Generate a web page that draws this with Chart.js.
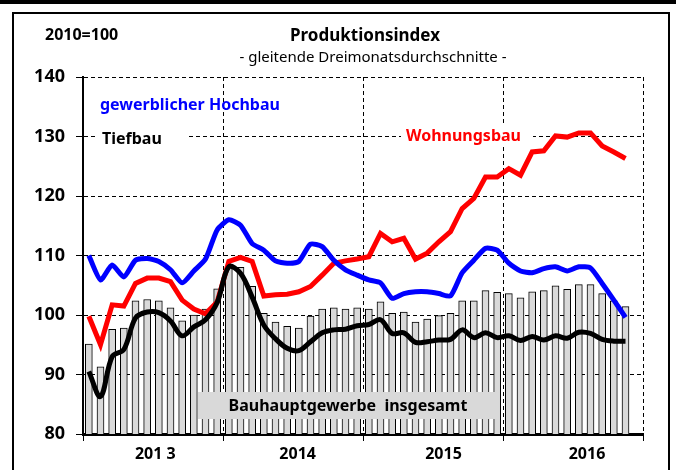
<!DOCTYPE html>
<html>
<head>
<meta charset="utf-8">
<script src="https://cdn.jsdelivr.net/npm/chart.js@4"></script>
<style>
  body { margin: 0; background: #fff; }
  #wrap { position: relative; width: 676px; height: 470px; }
  #topbar { position: absolute; left: 0; top: 0; width: 676px; height: 4px; background: #000; }
  #frame { position: absolute; left: 12px; top: 12px; width: 654px; height: 470px; border: 2px solid #000; border-bottom: none; }
  canvas { position: absolute; left: 0; top: 0; }
</style>
</head>
<body>
<div id="wrap">
  <div id="topbar"></div>
  <div id="frame"></div>
  <canvas id="myChart" width="676" height="470"></canvas>
</div>
<script>
// monthly values Jan 2013 - Nov 2016, 2010=100
var yearLabels = ['201 3', '2014', '2015', '2016'];
var yearLabelPos = [6.2, 18.4, 30.9, 43.2];

var bauhauptgewerbe = [95.1, 91.3, 97.6, 97.8, 102.4, 102.6, 102.4, 101.2, 99.0, 100.0, 101.0, 104.4,
  108.0, 108.0, 104.8, 100.3, 98.8, 98.1, 97.8, 99.8, 101.0, 101.2, 101.0, 101.2,
  101.0, 102.2, 100.3, 100.5, 98.8, 99.3, 99.9, 100.3, 102.4, 102.4, 104.1, 103.8,
  103.6, 102.9, 103.9, 104.1, 104.9, 104.3, 105.1, 105.1, 103.6, 102.4, 101.4];

var tiefbau = [90.5, 86.3, 93.0, 94.2, 99.5, 100.5, 100.4, 99.0, 96.5, 98.0, 99.2, 102.1,
  108.1, 107.0, 103.0, 98.3, 96.0, 94.4, 94.0, 95.5, 97.0, 97.5, 97.6, 98.2,
  98.4, 99.2, 96.9, 97.0, 95.4, 95.5, 95.8, 95.9, 97.5, 96.2, 97.0, 96.2,
  96.5, 95.7, 96.4, 95.8, 96.5, 96.1, 97.1, 96.9, 95.9, 95.6, 95.6];

var hochbau = [110.0, 105.9, 108.4, 106.4, 109.2, 109.5, 109.0, 107.6, 105.4, 107.4, 109.4, 114.3,
  116.0, 115.1, 112.0, 110.9, 109.1, 108.7, 109.0, 111.9, 111.5, 109.2, 107.6, 106.7,
  105.9, 105.4, 102.8, 103.6, 103.9, 103.9, 103.6, 103.2, 107.1, 109.2, 111.2, 110.9,
  108.7, 107.4, 107.1, 107.8, 108.1, 107.4, 108.1, 107.9, 105.3, 102.5, 99.6];

var wohnungsbau = [99.8, 95.0, 101.7, 101.5, 105.3, 106.2, 106.2, 105.6, 102.5, 101.0, 100.2, 102.2,
  109.0, 109.7, 109.0, 103.2, 103.4, 103.5, 103.9, 104.8, 106.7, 108.7, 109.1, 109.4,
  109.8, 113.7, 112.3, 112.9, 109.4, 110.4, 112.3, 114.0, 117.9, 119.6, 123.2, 123.2,
  124.6, 123.5, 127.4, 127.6, 130.1, 129.9, 130.6, 130.6, 128.4, 127.4, 126.3];

function toPoints(arr) {
  return arr.map(function (v, i) { return { x: i + 0.5, y: v }; });
}

var FONT = '"Noto Sans", "DejaVu Sans", sans-serif';

// titles and in-chart labels
var textPlugin = {
  id: 'texts',
  afterDatasetsDraw: function (chart) {
    var c = chart.ctx;
    c.save();
    c.textBaseline = 'middle';

    c.fillStyle = '#000';
    c.textAlign = 'left';
    c.font = 'bold 16px ' + FONT;
    c.fillText('2010=100', 45, 35);

    c.textAlign = 'center';
    c.font = 'bold 17px ' + FONT;
    c.fillText('Produktionsindex', 365, 36);
    c.font = '15px ' + FONT;
    c.fillText('- gleitende Dreimonatsdurchschnitte -', 373, 58);

    c.textAlign = 'left';
    c.font = 'bold 16px ' + FONT;
    c.fillStyle = '#0000ff';
    c.fillText('gewerblicher Hochbau', 100, 105);

    c.fillStyle = '#fff';
    c.fillRect(95, 128, 94, 20);
    c.fillStyle = '#000';
    c.fillText('Tiefbau', 102, 139);

    c.fillStyle = '#fff';
    c.fillRect(401, 126, 132, 20);
    c.fillStyle = '#ff0000';
    c.fillText('Wohnungsbau', 406, 136);

    c.fillStyle = '#d9d9d9';
    c.fillRect(198, 392, 300, 27);
    c.fillStyle = '#000';
    c.textAlign = 'center';
    c.fillText('Bauhauptgewerbe  insgesamt', 348, 406);
    c.restore();
  }
};

var ctx = document.getElementById('myChart').getContext('2d');
var chart = new Chart(ctx, {
  type: 'bar',
  data: {
    datasets: [{
      type: 'line',
      label: 'Wohnungsbau',
      data: toPoints(wohnungsbau),
      borderColor: '#ff0000',
      borderWidth: 5,
      pointRadius: 0,
      tension: 0,
      order: 3
    }, {
      type: 'line',
      label: 'gewerblicher Hochbau',
      data: toPoints(hochbau),
      borderColor: '#0000ff',
      borderWidth: 5,
      pointRadius: 0,
      tension: 0.2,
      order: 2
    }, {
      type: 'line',
      label: 'Tiefbau',
      data: toPoints(tiefbau),
      borderColor: '#000',
      borderWidth: 5,
      pointRadius: 0,
      tension: 0.35,
      order: 1
    }, {
      type: 'bar',
      label: 'Bauhauptgewerbe insgesamt',
      data: toPoints(bauhauptgewerbe),
      backgroundColor: '#d9d9d9',
      borderColor: '#000',
      borderWidth: 1,
      barThickness: 7,
      order: 4
    }]
  },
  options: {
    responsive: false,
    animation: false,
    layout: { padding: { left: 0, top: 77, right: 33, bottom: 0 } },
    plugins: { legend: { display: false }, tooltip: { enabled: false } },
    scales: {
      x: {
        type: 'linear',
        min: 0,
        max: 48,
        offset: false,
        afterBuildTicks: function (scale) {
          var t = [0, 12, 24, 36, 48].concat(yearLabelPos).sort(function (a, b) { return a - b; });
          scale.ticks = t.map(function (v) { return { value: v }; });
        },
        afterFit: function (scale) { scale.height = 36; },
        grid: {
          offset: false,
          color: function (c) { return c.tick && c.tick.value % 12 === 0 ? '#000' : 'rgba(0,0,0,0)'; },
          tickColor: function (c) { return c.tick && c.tick.value % 12 === 0 ? '#000' : 'rgba(0,0,0,0)'; },
          tickLength: 7,
          lineWidth: 1
        },
        border: { color: '#000', width: 3, dash: [4, 3] },
        ticks: {
          autoSkip: false,
          maxRotation: 0,
          padding: 4,
          color: '#000',
          font: { family: FONT, size: 16, weight: 'bold' },
          callback: function (v) {
            var k = yearLabelPos.indexOf(v);
            return k >= 0 ? yearLabels[k] : '';
          }
        }
      },
      y: {
        min: 80,
        max: 140,
        afterFit: function (scale) { scale.width = 83; },
        grid: { color: '#000', tickLength: 7, lineWidth: 1 },
        border: { color: '#000', width: 2, dash: [4, 3] },
        ticks: {
          stepSize: 10,
          padding: 11,
          color: '#000',
          font: { family: FONT, size: 18, weight: 'bold' }
        }
      }
    }
  },
  plugins: [textPlugin]
});
</script>
</body>
</html>
